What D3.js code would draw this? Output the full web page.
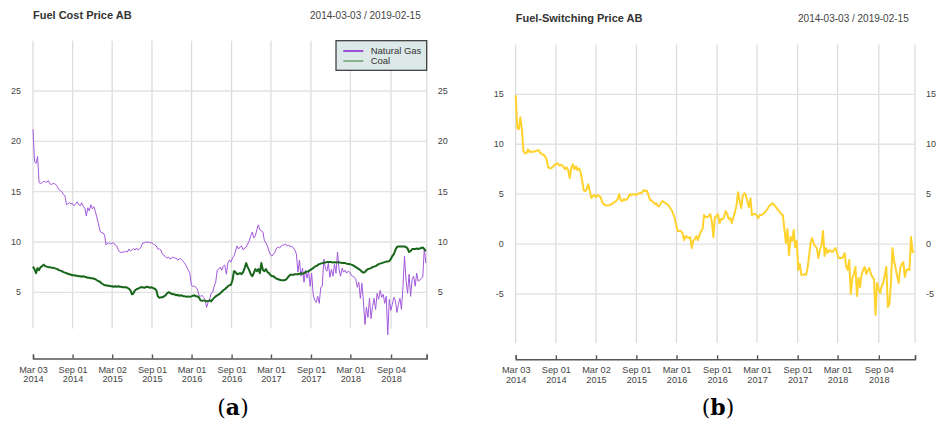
<!DOCTYPE html>
<html>
<head>
<meta charset="utf-8">
<script src="https://d3js.org/d3.v7.min.js"></script>
<style>
  body { margin: 0; background: #fff; }
  svg { font-family: "Liberation Sans", Arial, sans-serif; }
</style>
</head>
<body>
<svg id="chart" width="939" height="424"></svg>
<script>
// series are weekly samples starting at startDate
var startDate = "2014-03-03";
var endDate = "2019-02-15";
var stepDays = 7;

var tickDates = ["2014-03-03", "2014-09-01", "2015-03-02", "2015-09-01", "2016-03-01", "2016-09-01",
    "2017-03-01", "2017-09-01", "2018-03-01", "2018-09-04", "2019-02-15"];
var tickDayLabels = ["Mar 03", "Sep 01", "Mar 02", "Sep 01", "Mar 01", "Sep 01", "Mar 01", "Sep 01", "Mar 01", "Sep 04", ""];
var tickYearLabels = ["2014", "2014", "2015", "2015", "2016", "2016", "2017", "2017", "2018", "2018", ""];

var costTicks = [5, 10, 15, 20, 25];
var switchTicks = [-5, 0, 5, 10, 15];

var gasValues = [
    21.2, 18.0, 17.8, 18.5, 15.9, 15.8, 15.9, 16.0, 16.0, 15.9,
    16.1, 15.8, 15.7, 15.8, 15.8, 15.7, 15.5, 15.2, 15.1, 15.0,
    14.7, 14.6, 13.7, 13.8, 13.9, 13.8, 13.8, 13.6, 13.8, 14.0,
    13.7, 13.6, 13.9, 13.5, 13.4, 12.6, 13.4, 13.1, 13.7, 13.3,
    13.5, 13.0, 12.4, 11.8, 11.1, 10.9, 10.9, 10.7, 9.7, 9.9,
    9.9, 9.8, 9.9, 9.9, 9.7, 9.6, 9.2, 9.0, 8.95, 9.0,
    9.0, 9.1, 9.0, 9.3, 9.1, 9.2, 9.35, 9.2, 9.4, 9.2,
    9.3, 9.5, 9.9, 9.9, 10.0, 9.95, 10.0, 9.9, 9.95, 9.8,
    9.7, 9.6, 9.3, 9.3, 9.2, 8.8, 8.7, 8.5, 8.4, 8.5,
    8.3, 8.4, 8.5, 8.4, 8.4, 8.2, 8.3, 8.35, 8.2, 8.0,
    7.8, 7.5, 7.2, 6.9, 5.7, 5.6, 5.6, 5.5, 5.3, 4.7,
    4.6, 4.7, 4.5, 4.3, 3.5, 4.0, 4.3, 4.9, 5.0, 5.6,
    6.0, 7.2, 7.3, 7.5, 7.2, 7.6, 7.7, 6.8, 7.9, 8.2,
    8.0, 8.4, 8.6, 9.1, 9.6, 9.3, 9.5, 9.6, 9.2, 9.4,
    9.5, 9.8, 10.1, 10.6, 11.0, 10.4, 10.6, 11.2, 11.7, 11.2,
    11.1, 11.0, 10.1, 9.9, 9.6, 9.1, 8.7, 8.6, 8.8, 9.0,
    9.4, 9.5, 9.4, 9.6, 9.7, 9.7, 9.8, 9.6, 9.7, 9.5,
    9.6, 9.4, 9.2, 8.8, 7.0, 8.2, 6.6, 7.4, 6.0, 7.2,
    6.4, 7.1, 5.6, 6.9, 4.8, 4.2, 4.0, 4.6, 3.9, 5.5,
    5.6, 8.3, 7.4, 7.1, 7.9, 6.5, 7.3, 6.6, 7.8, 6.9,
    9.0, 7.3, 6.6, 7.4, 7.0, 7.2, 6.9, 7.1, 7.0, 6.7,
    6.6, 6.5, 6.3, 5.5, 6.0, 4.4, 5.9, 4.1, 1.8, 3.5,
    2.5, 4.4, 2.4, 3.6, 4.4, 3.3, 4.9, 4.3, 5.2, 4.5,
    4.8, 3.9, 4.6, 0.8, 4.3, 3.2, 3.8, 4.5, 4.2, 3.0,
    3.8, 4.4, 3.3, 5.6, 8.6, 6.2, 4.9, 6.8, 4.6, 6.3,
    6.6, 5.6, 6.9, 6.1, 6.2, 6.4, 6.5, 9.4, 7.9
];

var coalValues = [
    7.55, 7.3, 6.9, 7.4, 7.2, 7.5, 7.6, 7.75, 7.6, 7.55,
    7.5, 7.5, 7.45, 7.45, 7.4, 7.35, 7.3, 7.2, 7.15, 7.1,
    7.0, 6.95, 6.9, 6.85, 6.8, 6.75, 6.7, 6.7, 6.65, 6.65,
    6.6, 6.6, 6.55, 6.6, 6.55, 6.5, 6.45, 6.45, 6.4, 6.4,
    6.35, 6.3, 6.2, 6.1, 6.05, 5.9, 5.8, 5.7, 5.7, 5.65,
    5.65, 5.6, 5.6, 5.55, 5.6, 5.55, 5.6, 5.55, 5.55, 5.5,
    5.5, 5.5, 5.45, 5.35, 5.2, 4.8, 4.9, 5.2, 5.3, 5.35,
    5.45, 5.5, 5.5, 5.45, 5.5, 5.55, 5.5, 5.45, 5.5, 5.4,
    5.35, 5.2, 4.6, 4.45, 4.5, 4.5, 4.6, 4.7, 4.9, 5.0,
    4.95, 4.85, 4.8, 4.8, 4.7, 4.75, 4.65, 4.7, 4.65, 4.6,
    4.6, 4.55, 4.6, 4.55, 4.6, 4.65, 4.7, 4.6, 4.6, 4.5,
    4.2, 4.15, 4.2, 4.15, 4.1, 4.15, 4.2, 4.1, 4.3, 4.45,
    4.6, 4.7, 4.8, 4.9, 5.05, 5.2, 5.3, 5.45, 5.6, 5.7,
    5.75, 6.2, 7.1, 7.0, 6.8, 6.85, 6.9, 6.8, 7.0, 7.4,
    7.9, 7.5, 7.2, 6.8, 6.6, 6.9, 7.3, 7.1, 7.3, 6.9,
    7.9, 7.2, 7.1, 7.3, 7.0, 6.9, 6.7, 6.6, 6.6, 6.45,
    6.35, 6.3, 6.25, 6.2, 6.2, 6.2, 6.25, 6.4, 6.6, 6.75,
    6.75, 6.75, 6.8, 6.8, 6.8, 6.85, 6.9, 6.85, 6.9, 7.0,
    7.05, 7.1, 7.2, 7.3, 7.4, 7.55, 7.6, 7.7, 7.8, 7.85,
    7.9, 7.95, 7.95, 8.0, 8.0, 8.0, 8.0, 7.95, 8.0, 7.95,
    8.0, 7.95, 7.95, 7.9, 7.9, 7.9, 7.85, 7.8, 7.8, 7.75,
    7.7, 7.6, 7.5, 7.4, 7.3, 7.2, 7.05, 6.95, 7.0, 7.2,
    7.3, 7.35, 7.4, 7.5, 7.55, 7.6, 7.7, 7.8, 7.85, 7.9,
    7.95, 8.0, 8.05, 8.05, 8.1, 8.3, 8.6, 8.8, 9.2, 9.5,
    9.55, 9.55, 9.55, 9.55, 9.55, 9.5, 9.35, 9.0, 9.1, 9.3,
    9.3, 9.3, 9.35, 9.3, 9.35, 9.4, 9.45, 9.3, 9.1
];

var switchValues = [
    14.9, 11.6, 11.5, 12.7, 11.5, 9.3, 9.1, 9.1, 9.5, 9.2,
    9.3, 9.2, 9.3, 9.3, 9.4, 9.4, 9.1, 9.0, 8.95, 8.8,
    8.5, 7.7, 7.6, 7.6, 7.7, 7.9, 8.0, 8.1, 7.9, 7.95,
    7.9, 7.7, 7.5, 7.7, 7.4, 6.6, 7.6, 8.0, 7.5, 7.8,
    7.4, 7.6, 7.2, 6.4, 5.4, 5.3, 5.5, 6.0, 5.3, 4.6,
    4.8, 4.9, 4.7, 4.9, 4.8, 4.7, 4.2, 4.0, 3.9, 3.85,
    3.9, 3.9, 4.0, 4.1, 4.2, 4.3, 4.5, 5.0, 4.4, 4.3,
    4.5, 4.4, 4.5, 4.7, 5.0, 4.9, 5.0, 5.0, 4.9, 5.0,
    5.1, 5.1, 5.2, 5.4, 5.3, 5.35, 4.9, 4.4, 4.4, 4.2,
    4.0, 4.1, 3.8, 3.8, 4.1, 4.3, 4.2, 4.1, 4.0, 3.9,
    3.6, 3.4, 3.0, 2.6, 1.8, 1.3, 1.3, 1.3, 1.1, 0.4,
    0.8, 0.7, 0.6, 0.7, -0.4, 0.3, 0.5, 0.8, 0.4, 0.9,
    1.3, 1.5, 2.9, 2.7, 2.7, 2.8, 3.0, 2.3, 0.7, 2.7,
    2.8, 3.0, 2.1, 2.5, 2.5, 2.7, 3.3, 3.0, 2.5, 2.6,
    2.1, 2.7, 3.2, 3.9, 5.2, 4.3, 3.6, 4.8, 5.1, 4.9,
    4.3, 3.7, 4.6, 2.9, 3.0, 3.0, 2.9, 2.6, 2.9, 2.9,
    3.0, 3.1, 3.3, 3.5, 3.8, 3.9, 4.1, 4.0, 3.8, 3.6,
    3.4, 3.2, 3.0, 2.9, 1.5, 0.1, 1.5, -1.1, 0.7, 0.3,
    1.4, -0.3, 0.3, -2.6, -2.0, -3.1, -3.1, -3.0, -3.1, -2.4,
    -1.2, 0.2, 0.6, 0.0, -0.2, -0.4, -1.4, -0.6, -0.1, 1.3,
    -1.2, -0.4, -0.9, -0.6, -0.7, -0.8, -0.6, -0.4, -0.8, -1.4,
    -1.4, -1.4, -1.3, -0.9, -2.2, -2.6, -1.6, -5.0, -3.4, -3.0,
    -2.3, -5.2, -3.4, -4.3, -3.0, -2.6, -2.3, -3.0, -2.6, -2.4,
    -3.0, -3.3, -3.5, -7.1, -3.9, -4.5, -4.9, -4.2, -3.9, -3.1,
    -2.3, -6.3, -6.0, -3.8, -0.4, -1.7, -2.4, -3.2, -3.9, -2.4,
    -2.0, -1.8, -3.3, -2.6, -2.5, -2.6, 0.7, -0.8, -0.7
];

var parseDate = d3.timeParse("%Y-%m-%d");
var svg = d3.select("#chart");

function toSeries(values) {
    var t0 = parseDate(startDate);
    return values.map(function (v, i) { return { date: d3.timeDay.offset(t0, i * stepDays), value: v }; });
}

function drawPanel(cfg) {
    var g = svg.append("g");
    var x = d3.scaleTime()
        .domain([parseDate(startDate), parseDate(endDate)])
        .range([cfg.left, cfg.right]);
    var y = d3.scaleLinear().domain(cfg.refValues).range(cfg.refPixels);
    var ticks = tickDates.map(parseDate);

    // title + date range
    g.append("text").attr("x", cfg.left).attr("y", cfg.titleY)
        .attr("font-size", 11).attr("font-weight", "bold").attr("fill", "#333")
        .text(cfg.title);
    g.append("text").attr("x", cfg.rangeX).attr("y", cfg.titleY)
        .attr("font-size", 10).attr("fill", "#444").attr("text-anchor", "end")
        .text(startDate + " / " + endDate);

    // grid
    g.selectAll(".vgrid").data(ticks).enter().append("line")
        .attr("x1", function (d) { return x(d); }).attr("x2", function (d) { return x(d); })
        .attr("y1", y(cfg.gridTop)).attr("y2", y(cfg.gridBottom))
        .attr("stroke", "#dcdcdc").attr("stroke-width", 1.3);
    g.selectAll(".hgrid").data(cfg.yTicks).enter().append("line")
        .attr("x1", cfg.left).attr("x2", cfg.right)
        .attr("y1", function (d) { return y(d); }).attr("y2", function (d) { return y(d); })
        .attr("stroke", "#e2e2e2").attr("stroke-width", 1.3);

    // y labels both sides
    g.selectAll(".ylabL").data(cfg.yTicks).enter().append("text")
        .attr("x", cfg.left - 12).attr("y", function (d) { return y(d) + 3; })
        .attr("text-anchor", "end").attr("font-size", 9).attr("fill", "#444")
        .text(function (d) { return d; });
    g.selectAll(".ylabR").data(cfg.yTicks).enter().append("text")
        .attr("x", cfg.right + 11).attr("y", function (d) { return y(d) + 3; })
        .attr("font-size", 9).attr("fill", "#444")
        .text(function (d) { return d; });

    // x axis, ticks pointing up
    var axis = g.append("g")
        .attr("transform", "translate(0," + cfg.axisY + ")")
        .call(d3.axisBottom(x).tickValues(ticks).tickSize(-4).tickFormat(""));
    axis.attr("font-family", null);
    axis.select(".domain").attr("stroke", "#555").attr("stroke-width", 1.4);
    axis.selectAll(".tick line").attr("stroke", "#555").attr("stroke-width", 1.4);
    axis.selectAll(".tick").each(function (d, i) {
        var t = d3.select(this);
        t.append("text").attr("y", 14).attr("fill", "#444").attr("font-size", 9.2)
            .attr("text-anchor", "middle").text(tickDayLabels[i]);
        t.append("text").attr("y", 23.5).attr("fill", "#444").attr("font-size", 9.2)
            .attr("text-anchor", "middle").text(tickYearLabels[i]);
    });

    var line = d3.line()
        .x(function (d) { return x(d.date); })
        .y(function (d) { return y(d.value); });
    cfg.series.forEach(function (s) {
        g.append("path").datum(toSeries(s.values))
            .attr("fill", "none").attr("stroke", s.color)
            .attr("stroke-width", s.width).attr("stroke-linejoin", "round")
            .attr("d", line);
    });

    // caption
    var cap = g.append("text").attr("x", cfg.captionX).attr("y", 415)
        .attr("text-anchor", "middle").attr("font-size", 22)
        .style("font-family", "'DejaVu Serif', 'Liberation Serif', serif").attr("fill", "#000");
    cap.append("tspan").text("(");
    cap.append("tspan").attr("font-weight", "bold").text(cfg.caption);
    cap.append("tspan").text(")");
    return g;
}

var left = drawPanel({
    title: "Fuel Cost Price AB", titleY: 19, rangeX: 420.7,
    left: 33, right: 426.7, axisY: 358.5,
    refValues: [5, 25], refPixels: [292.3, 91], gridTop: 30, gridBottom: 1.4,
    yTicks: costTicks, caption: "a", captionX: 233,
    series: [
        { values: gasValues, color: "#a259dc", width: 1 },
        { values: coalValues, color: "#17661a", width: 2 }
    ]
});

// legend
var lg = left.append("g");
lg.append("rect").attr("x", 336).attr("y", 40.7).attr("width", 90.7).attr("height", 29.6)
    .attr("fill", "#dde9e8").attr("stroke", "#333").attr("stroke-width", 1.2);
lg.append("line").attr("x1", 343.3).attr("x2", 363.3).attr("y1", 51).attr("y2", 51)
    .attr("stroke", "#9d4fd8").attr("stroke-width", 2);
lg.append("line").attr("x1", 343.3).attr("x2", 363.3).attr("y1", 61).attr("y2", 61)
    .attr("stroke", "#2e7d32").attr("stroke-width", 1);
lg.append("text").attr("x", 370.7).attr("y", 54.3).attr("font-size", 9.5).attr("fill", "#333").text("Natural Gas");
lg.append("text").attr("x", 370.7).attr("y", 64.3).attr("font-size", 9.5).attr("fill", "#333").text("Coal");

drawPanel({
    title: "Fuel-Switching Price AB", titleY: 22, rangeX: 908.7,
    left: 515.7, right: 915, axisY: 359.3,
    refValues: [-5, 15], refPixels: [294, 94.3], gridTop: 20, gridBottom: -9.9,
    yTicks: switchTicks, caption: "b", captionX: 718,
    series: [
        { values: switchValues, color: "#ffd22e", width: 2 }
    ]
});
</script>
</body>
</html>
